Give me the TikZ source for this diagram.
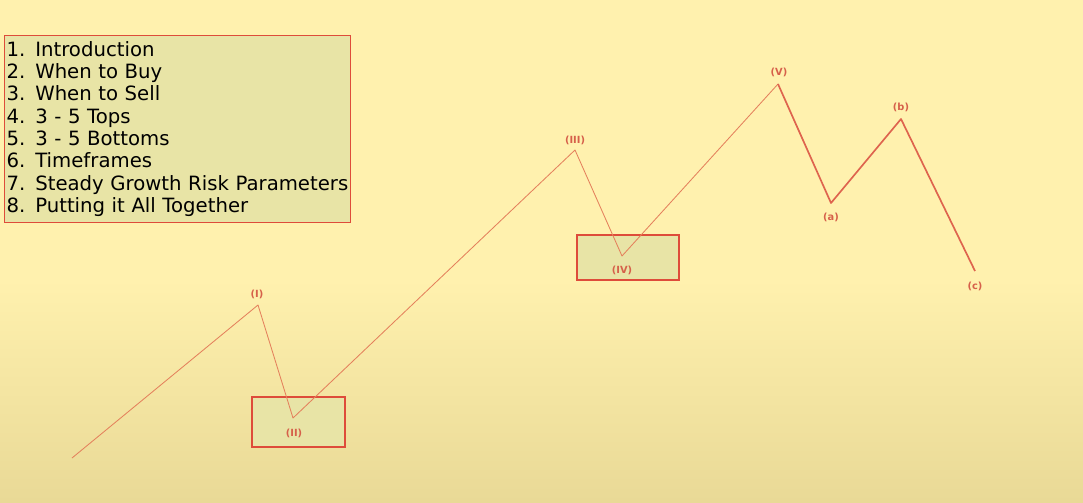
\documentclass[tikz,border=0pt]{standalone}
\usepackage{fontspec}
\setmainfont{DejaVu Sans}
\definecolor{bgtop}{RGB}{255,241,174}
\definecolor{bgbot}{RGB}{233,217,150}
\definecolor{boxfill}{RGB}{232,228,166}
\definecolor{boxline}{RGB}{222,76,58}
\definecolor{wave}{RGB}{228,128,92}
\definecolor{wavedark}{RGB}{222,100,78}
\definecolor{lbl}{RGB}{214,96,74}
\begin{document}
\begin{tikzpicture}[x=0.025cm,y=-0.025cm]
			\tikzstyle{thin wave} = [wave, line width=0.6pt, line join=round]
			\tikzstyle{thick wave} = [wavedark, line width=1.2pt, line join=round]
			\tikzstyle{zone} = [draw=boxline, fill=boxfill, line width=0.8pt]
			\tikzstyle{wavelbl} = [text=lbl, font=\fontsize{7}{8}\selectfont\bfseries, inner sep=0]
			% background
			\useasboundingbox (0,0) rectangle (1083,502);
			\fill[bgtop] (0,0) rectangle (1083,280);
			\shade[top color=bgtop, bottom color=bgbot] (0,279) rectangle (1083,502);
			% contents
			\node [zone, anchor=north west, align=left, inner xsep=1.5pt, inner ysep=4pt, text width=8.55cm, font=\fontsize{14}{15.9}\selectfont] (menu) at (4,35) {1. Introduction\\2. When to Buy\\3. When to Sell\\4. 3 - 5 Tops\\5. 3 - 5 Bottoms\\6. Timeframes\\7. Steady Growth Risk Parameters\\8. Putting it All Together};
			% zones
			\draw [zone] (252,397) rectangle (345,447);
			\draw [zone] (577,235) rectangle (679,280);
			% wave points
			\coordinate (w0) at (72,458);
			\coordinate (w1) at (258,305);
			\coordinate (w2) at (293,418);
			\coordinate (w3) at (575,150);
			\coordinate (w4) at (622,256);
			\coordinate (w5) at (778,84);
			\coordinate (wa) at (831,203);
			\coordinate (wb) at (901,119);
			\coordinate (wc) at (975,271);
			\draw [thin wave] (w0) -- (w1) -- (w2) -- (w3) -- (w4) -- (w5);
			\draw [thick wave] (w5) -- (wa) -- (wb) -- (wc);
			% labels
			\node [wavelbl] (l1) at (257,294) {(I)};
			\node [wavelbl] (l2) at (294,433) {(II)};
			\node [wavelbl] (l3) at (575,140) {(III)};
			\node [wavelbl] (l4) at (622,270) {(IV)};
			\node [wavelbl] (l5) at (779,72) {(V)};
			\node [wavelbl] (la) at (831,217) {(a)};
			\node [wavelbl] (lb) at (901,107) {(b)};
			\node [wavelbl] (lc) at (975,286) {(c)};
\end{tikzpicture}
\end{document}
